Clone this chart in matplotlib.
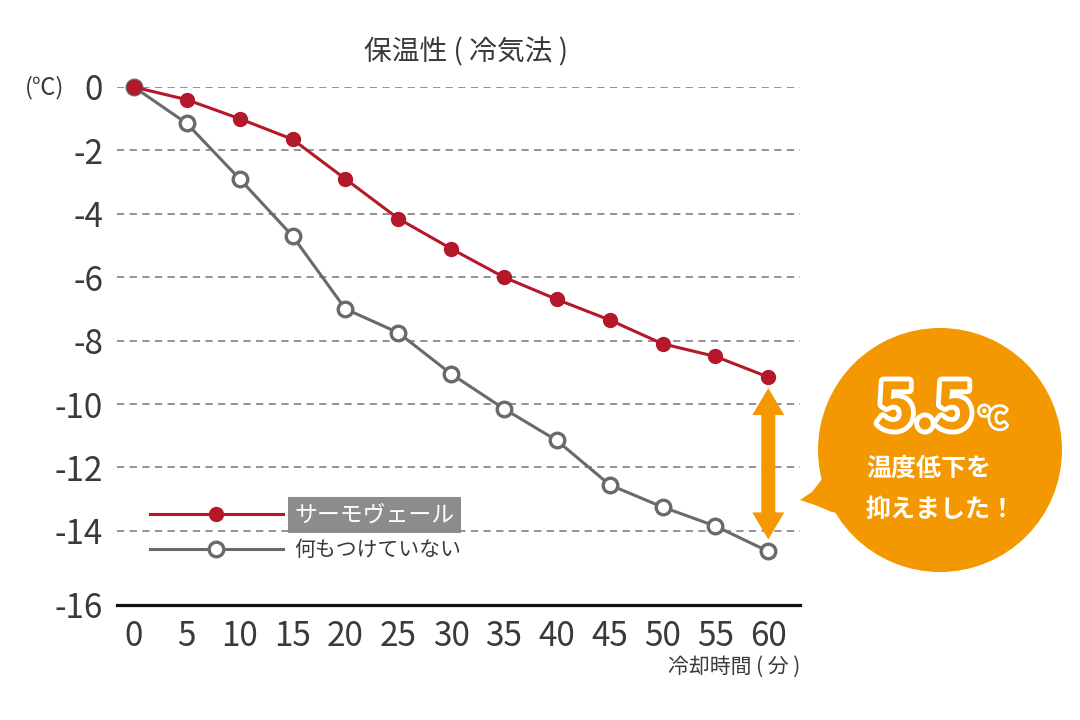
import matplotlib.pyplot as plt
import matplotlib.patheffects as pe
from matplotlib.patches import Circle, Polygon
from matplotlib.lines import Line2D

plt.rcParams['font.family'] = ['Noto Sans CJK JP', 'DejaVu Sans']
plt.rcParams['axes.unicode_minus'] = False

# data
minutes = [0, 5, 10, 15, 20, 25, 30, 35, 40, 45, 50, 55, 60]
thermo = [0, -0.4, -1.0, -1.65, -2.9, -4.15, -5.1, -6.0, -6.7, -7.35, -8.1, -8.5, -9.15]
bare = [0, -1.15, -2.9, -4.7, -7.0, -7.75, -9.05, -10.15, -11.15, -12.55, -13.25, -13.85, -14.65]
yticks = [0, -2, -4, -6, -8, -10, -12, -14, -16]
labels = ['サーモヴェール', '何もつけていない']
title = '保温性 ( 冷気法 )'
xlabel = '冷却時間 ( 分 )'
unit = '(℃)'
diff_text = '5.5'
note_lines = ['温度低下を', '抑えました！']

RED = '#b5172b'
GREY = '#6a6a6a'
ORANGE = '#f39800'
TXT = '#3a3a3a'

# in the original the base line sits a bit below the -16 step
y_floor = -16.34

W, H = 1080, 720
fig = plt.figure(figsize=(W / 100, H / 100), dpi=100)
ax = fig.add_axes([117 / W, 115 / H, 683 / W, 518 / H])
ax.set_xlim(-1.6, 63)
ax.set_ylim(y_floor, 0)

for v in yticks[:-1]:
    ax.axhline(v, color='#8a8a8a', lw=1.3, ls=(0, (4, 3)), zorder=0)
for s in ['top', 'right', 'left']:
    ax.spines[s].set_visible(False)
ax.spines['bottom'].set_linewidth(2.3)
ax.spines['bottom'].set_color('#111111')
ax.spines['bottom'].set_zorder(5)

ax.plot(minutes, bare, color=GREY, lw=2.2, marker='o', ms=10.5, mfc='white',
        mec=GREY, mew=2.4, clip_on=False, zorder=3)
ax.plot(minutes, thermo, color=RED, lw=2.2, marker='o', ms=10, mfc=RED,
        mec=RED, clip_on=False, zorder=4)

ax.set_xticks(minutes)
ax.set_xticklabels([str(m) for m in minutes])
ax.set_yticks(yticks[:-1] + [y_floor])
ax.set_yticklabels([str(v) for v in yticks])
ax.tick_params(length=0, labelsize=24, colors=TXT)
ax.tick_params(axis='y', pad=10)
ax.tick_params(axis='x', pad=10)

handles = [Line2D([], [], color=RED, lw=2.2, marker='o', ms=10, mfc=RED, mec=RED),
           Line2D([], [], color=GREY, lw=2.2, marker='o', ms=10.5, mfc='white',
                  mec=GREY, mew=2.4)]
leg = ax.legend(handles, labels, loc='upper left', bbox_to_anchor=(0.048, 0.196),
                frameon=False, fontsize=15, handlelength=6.4, handletextpad=0.55,
                labelspacing=0.6, borderpad=0, borderaxespad=0, numpoints=1)
t0 = leg.get_texts()[0]
t0.set_color('white')
t0.set_fontsize(16.5)
t0.set_bbox(dict(facecolor='#8c8c8c', edgecolor='none', pad=4.5))
leg.get_texts()[1].set_color(TXT)

# overlay in image pixel coordinates
ov = fig.add_axes([0, 0, 1, 1])
ov.set_xlim(0, W)
ov.set_ylim(H, 0)
ov.axis('off')


def to_img(x, y):
    dx, dy = ax.transData.transform((x, y))
    return dx, H - dy


ov.text(466, 52, title, fontsize=20, color=TXT, ha='center', va='center')
ov.text(45, 88, unit, fontsize=17, color=TXT, ha='center', va='center')
ov.text(800, 667, xlabel, fontsize=15, color=TXT, ha='right', va='center')

# double arrow between the two final points
xc, y_top = to_img(minutes[-1], thermo[-1])
_, y_bot = to_img(minutes[-1], bare[-1])
y_top += 11
y_bot -= 12
hl, hw, sw = 27, 16, 7
arrow = [(xc, y_top), (xc + hw, y_top + hl), (xc + sw, y_top + hl),
         (xc + sw, y_bot - hl), (xc + hw, y_bot - hl), (xc, y_bot),
         (xc - hw, y_bot - hl), (xc - sw, y_bot - hl), (xc - sw, y_top + hl),
         (xc - hw, y_top + hl)]
ov.add_patch(Polygon(arrow, closed=True, facecolor=ORANGE, edgecolor='none'))

# speech bubble
ov.add_patch(Circle((940, 450), 122, facecolor=ORANGE, edgecolor='none'))
ov.add_patch(Polygon([(800, 500), (812, 492), (826, 474), (845, 470), (850, 515),
                      (832, 512), (815, 505)], closed=True, facecolor=ORANGE,
                     edgecolor='none'))

stroke = [pe.withStroke(linewidth=7, foreground='white')]
ov.text(925, 410, diff_text, fontsize=46, weight='bold', color=ORANGE,
        ha='center', va='center', path_effects=stroke)
ov.text(993, 420, '℃', fontsize=20, weight='bold', color=ORANGE,
        ha='center', va='center', path_effects=[pe.withStroke(linewidth=4, foreground='white')])
ov.text(866, 469, note_lines[0], fontsize=18, weight='bold', color='white',
        ha='left', va='center')
ov.text(866, 510, note_lines[1], fontsize=18, weight='bold', color='white',
        ha='left', va='center')

fig.savefig('out.png', dpi=100)
